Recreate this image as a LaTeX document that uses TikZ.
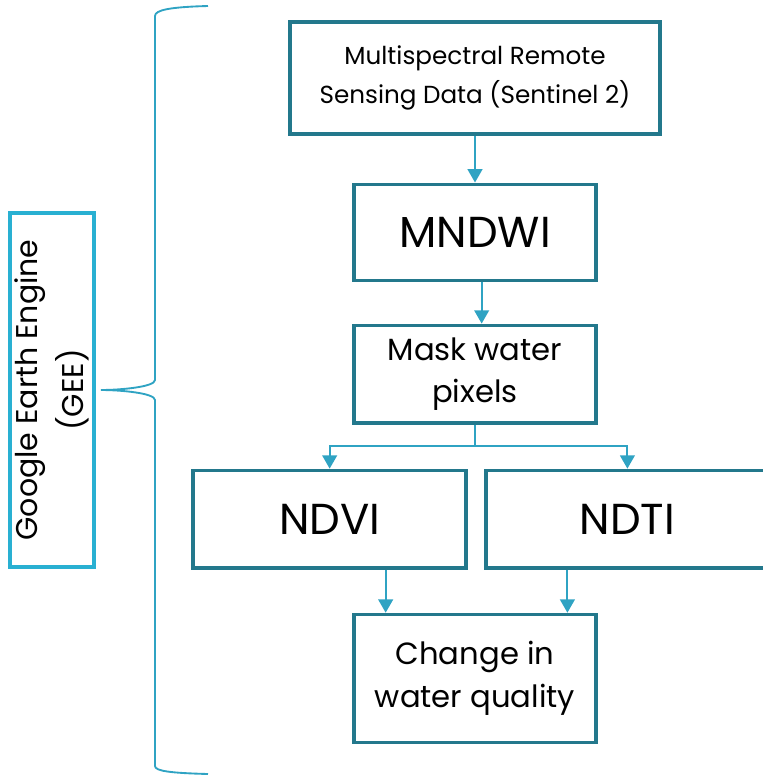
\documentclass[tikz,border=0pt]{standalone}
\usepackage{fontspec}
\setmainfont{Poppins}
\usepackage{tikz}
\usetikzlibrary{arrows.meta,positioning,calc}
\definecolor{boxteal}{HTML}{23788C}
\definecolor{arrteal}{HTML}{2FA3C3}
\definecolor{geeblue}{HTML}{29B0D2}

\begin{document}
\begin{tikzpicture}[
  x=0.75pt, y=-0.75pt,
  box/.style={draw=boxteal, line width=2.8pt, align=center, inner sep=0pt, fill=white},
  gee/.style={draw=geeblue, line width=3pt, align=center, inner sep=0pt},
  arr/.style={draw=arrteal, line width=1.6pt, -{Triangle[length=10pt, width=11pt]}},
  bigtxt/.style={font=\fontsize{32.5}{38}\selectfont},
  midtxt/.style={font=\fontsize{23}{32}\selectfont},
  smalltxt/.style={font=\fontsize{18.5}{29}\selectfont}
]
\useasboundingbox (0,0) rectangle (763,775);
% processing column
\node[box, smalltxt, minimum width=277pt, minimum height=84pt] (rs) at (475,78) {\raisebox{-4pt}{\parbox{270pt}{\centering Multispectral Remote\\Sensing Data (Sentinel 2)}}};
\node[box, bigtxt, minimum width=181pt, minimum height=72pt, below=35pt of rs] (mndwi) {MNDWI};
\node[box, midtxt, minimum width=181pt, minimum height=73pt, below=31pt of mndwi] (mask) {Mask water\\pixels};
\node[box, bigtxt, minimum width=205pt, minimum height=73pt, below=33pt of mask, xshift=-109pt] (ndvi) {NDVI};
\node[box, bigtxt, minimum width=212pt, minimum height=73pt, right=12pt of ndvi] (ndti) {NDTI};
\node[box, midtxt, minimum width=181pt, minimum height=96pt, anchor=north] (chg) at ($(ndvi.south -| mask.south)+(0,43)$) {Change in\\water quality};
% platform label
\node[gee, rotate=90, minimum width=266pt, minimum height=63pt, font=\fontsize{22.5}{34}\selectfont] (gee) at (52,390) {Google Earth Engine\\(GEE)};
% connectors
\draw[arr] (rs) -- (mndwi);
\draw[arr] ([xshift=5pt]mndwi.south) -- ([xshift=5pt]mask.north);
\coordinate (split) at ($(mask.south)+(0,21)$);
\draw[arrteal, line width=1.6pt] (mask.south) -- (split);
\draw[arr] (split) -| (ndvi.north);
\draw[arr] (split) -| (ndti.north);
\draw[arr] ([xshift=42pt]ndvi.south) -- ([xshift=42pt]ndvi.south |- chg.north);
\draw[arr] ([xshift=-45pt]ndti.south) -- ([xshift=-45pt]ndti.south |- chg.north);
% brace
\draw[arrteal, line width=1.4pt] (208,6) .. controls (170,7) and (155,10) .. (155,16) -- (155,380)
  .. controls (155,387) and (120,390) .. (101,390)
  .. controls (120,390) and (155,393) .. (155,400) -- (155,766)
  .. controls (155,771) and (170,773) .. (208,774);
\end{tikzpicture}
\end{document}
